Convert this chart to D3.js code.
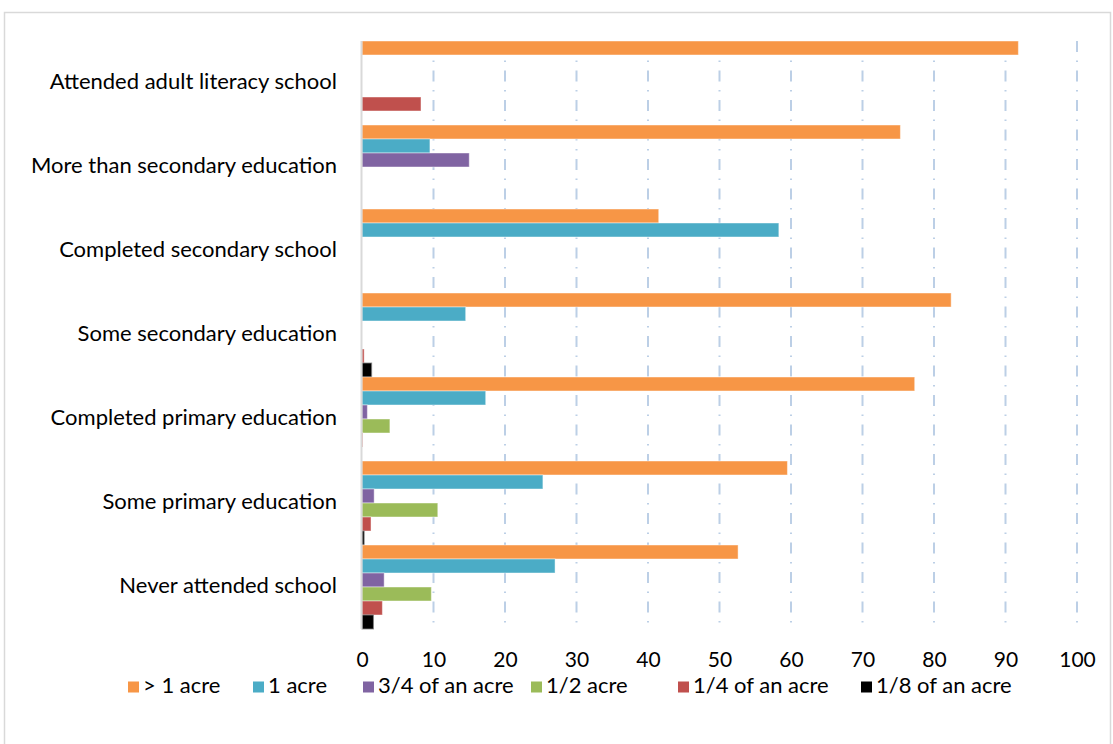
<!DOCTYPE html>
<html>
<head>
<meta charset="utf-8">
<script src="https://cdn.jsdelivr.net/npm/d3@7"></script>
<style>
  html, body { margin: 0; padding: 0; background: #fff; }
  svg { display: block; font-family: Lato, "Liberation Sans", sans-serif; }
</style>
</head>
<body>
<svg id="chart" width="1113" height="744"></svg>
<script>
// Education level of respondents (top to bottom as drawn)
const categories = [
  "Attended adult literacy school",
  "More than secondary education",
  "Completed secondary school",
  "Some secondary education",
  "Completed primary education",
  "Some primary education",
  "Never attended school"
];

// Plot size categories (legend order)
const seriesNames = ["> 1 acre", "1 acre", "3/4 of an acre", "1/2 acre", "1/4 of an acre", "1/8 of an acre"];
const seriesColors = ["#F79646", "#4BACC6", "#8064A2", "#9BBB59", "#C0504D", "#000000"];

// Percentages per plot size, one value per education level (same order as categories)
const moreThanOneAcre = [91.8, 75.3, 41.5, 82.4, 77.3, 59.5, 52.6];
const oneAcre         = [0,     9.5, 58.3, 14.5, 17.3, 25.3, 27.0];
const threeQuarter    = [0,    15.0,  0,    0,    0.75, 1.7,  3.1];
const oneHalf         = [0,     0,    0,    0,    3.9, 10.6,  9.7];
const oneQuarter      = [8.25,  0,    0,    0.3,  0.1,  1.26, 2.85];
const oneEighth       = [0,     0,    0,    1.35, 0,    0.3,  1.6];

const xTicks = [0, 10, 20, 30, 40, 50, 60, 70, 80, 90, 100];

const seriesValues = [moreThanOneAcre, oneAcre, threeQuarter, oneHalf, oneQuarter, oneEighth];

const svg = d3.select("#chart");

// outer chart frame
svg.append("rect")
  .attr("x", 4.5).attr("y", 12.5)
  .attr("width", 1106).attr("height", 740)
  .attr("fill", "none")
  .attr("stroke", "#d9d9d9")
  .attr("stroke-width", 1.5);

const plotLeft = 362, plotRight = 1077, plotTop = 41, plotBottom = 629;

const x = d3.scaleLinear().domain([0, 100]).range([plotLeft, plotRight]);
const y = d3.scaleBand().domain(categories).range([plotTop, plotBottom]).padding(0);
const yInner = d3.scaleBand().domain(seriesNames).range([0, y.bandwidth()]).padding(0);

// vertical dash-dot gridlines
svg.append("g").selectAll("line")
  .data(xTicks.filter(t => t > 0))
  .join("line")
  .attr("x1", d => x(d)).attr("x2", d => x(d))
  .attr("y1", plotTop).attr("y2", plotBottom)
  .attr("stroke", "#bccfe6")
  .attr("stroke-width", 2)
  .attr("stroke-dasharray", "11,8.5,1.5,8.5");

// bars
const groups = svg.append("g").selectAll("g")
  .data(categories)
  .join("g")
  .attr("transform", d => `translate(0,${y(d)})`);

groups.selectAll("rect")
  .data((cat, ci) => seriesNames.map((s, si) => ({ s, si, v: seriesValues[si][ci] })).filter(d => d.v > 0))
  .join("rect")
  .attr("x", x(0))
  .attr("y", d => yInner(d.s))
  .attr("width", d => x(d.v) - x(0))
  .attr("height", yInner.bandwidth())
  .attr("fill", d => seriesColors[d.si])
  .attr("stroke", d => d.si === 5 ? "#7f7f7f" : "#ffffff")
  .attr("stroke-opacity", d => d.si === 5 ? 0.8 : 0.45)
  .attr("stroke-width", 1);

// category axis line
svg.append("line")
  .attr("x1", plotLeft - 0.5).attr("x2", plotLeft - 0.5)
  .attr("y1", plotTop).attr("y2", plotBottom)
  .attr("stroke", "#d9d9d9").attr("stroke-width", 2);

// category labels
svg.append("g").selectAll("text")
  .data(categories)
  .join("text")
  .attr("x", 337)
  .attr("y", d => y(d) + y.bandwidth() / 2)
  .attr("text-anchor", "end")
  .attr("dominant-baseline", "middle")
  .attr("font-size", 22)
  .attr("fill", "#000")
  .text(d => d);

// value axis tick labels
const xAxis = d3.axisBottom(x).tickValues(xTicks).tickSize(0).tickPadding(0);
const axisG = svg.append("g").attr("transform", `translate(0,${plotBottom})`).call(xAxis);
axisG.select(".domain").remove();
axisG.selectAll("text")
  .attr("y", 33)
  .attr("dy", 0)
  .attr("dominant-baseline", "middle")
  .attr("font-size", 21)
  .attr("font-family", "Lato, sans-serif")
  .attr("fill", "#000");

// legend
const legendX = [128, 253, 363, 531, 678, 861];
const legend = svg.append("g").selectAll("g")
  .data(seriesNames)
  .join("g")
  .attr("transform", (d, i) => `translate(${legendX[i]},687)`);
legend.append("rect")
  .attr("x", 0).attr("y", -5.5)
  .attr("width", 11).attr("height", 11)
  .attr("fill", (d, i) => seriesColors[i]);
legend.append("text")
  .attr("x", 15).attr("y", 0)
  .attr("dominant-baseline", "middle")
  .attr("font-size", 22)
  .attr("fill", "#000")
  .text(d => d);
</script>
</body>
</html>
